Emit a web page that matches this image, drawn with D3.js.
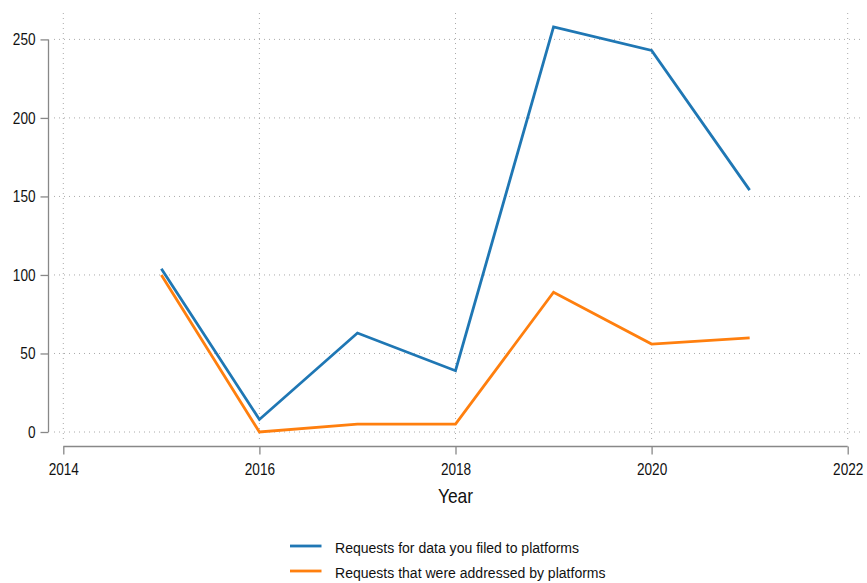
<!DOCTYPE html>
<html><head><meta charset="utf-8">
<script src="https://cdn.jsdelivr.net/npm/d3@7"></script>
<style>
html,body{margin:0;padding:0;background:#fff;}
text{font-family:"Liberation Sans Narrow","Arial Narrow","Liberation Sans",Arial,sans-serif;fill:#111;}
</style></head>
<body><svg id="c" width="867" height="583"></svg>
<script>
const years = [2015, 2016, 2017, 2018, 2019, 2020, 2021];
const filed = [104, 8, 63, 39, 258, 243, 154];
const addressed = [100, 0, 5, 5, 89, 56, 60];
const seriesNames = ["Requests for data you filed to platforms", "Requests that were addressed by platforms"];
const colors = ["#1f77b4", "#ff7f0e"];
const xTicks = [2014, 2016, 2018, 2020, 2022];
const yTicks = [0, 50, 100, 150, 200, 250];

const svg = d3.select("#c");
const x = d3.scaleLinear().domain([2014, 2022]).range([63.3, 847.7]);
const y = d3.scaleLinear().domain([0, 250]).range([432, 39.4]);

function squeeze(sel, f) {
  sel.each(function() {
    const w = this.getComputedTextLength();
    d3.select(this).attr("textLength", (w * f).toFixed(2)).attr("lengthAdjust", "spacingAndGlyphs");
  });
}

// gridlines
const grid = svg.append("g");
grid.selectAll("line.h").data(yTicks).join("line")
  .attr("x1", 54).attr("x2", 862).attr("y1", d => y(d)).attr("y2", d => y(d))
  .attr("stroke", "#aaa").attr("stroke-width", 1).attr("stroke-dasharray", "1,4");
grid.selectAll("line.v").data(xTicks).join("line")
  .attr("x1", d => x(d)).attr("x2", d => x(d)).attr("y1", 13).attr("y2", 441)
  .attr("stroke", "#aaa").attr("stroke-width", 1).attr("stroke-dasharray", "1,4");

// y axis
const yAxis = svg.append("g").attr("transform", "translate(48.5,0)")
  .call(d3.axisLeft(y).tickValues(yTicks).tickSize(8).tickPadding(5));
// x axis
const xAxis = svg.append("g").attr("transform", "translate(0,446.5)")
  .call(d3.axisBottom(x).tickValues(xTicks).tickFormat(d3.format("d")).tickSize(8).tickPadding(9));
[yAxis, xAxis].forEach(a => {
  a.select(".domain").attr("stroke", "#888").attr("stroke-width", 1.3);
  a.selectAll(".tick line").attr("stroke", "#888").attr("stroke-width", 1.3);
  a.selectAll(".tick text").style("font-size", "16px").attr("fill", "#111")
   .style("font-family", '"Liberation Sans Narrow","Arial Narrow","Liberation Sans",Arial,sans-serif');
  squeeze(a.selectAll(".tick text"), 0.85);
});
yAxis.select(".domain").attr("d", `M0,${y(250)}V${y(0)}`);
xAxis.select(".domain").attr("d", `M${x(2014)},0H${x(2022)}`);

// lines
const line = d3.line().x(d => x(d[0])).y(d => y(d[1]));
[filed, addressed].forEach((vals, i) => {
  svg.append("path").datum(years.map((yr, j) => [yr, vals[j]]))
    .attr("d", line).attr("fill", "none").attr("stroke", colors[i])
    .attr("stroke-width", 2.8).attr("stroke-linejoin", "miter");
});

// x title
const title = svg.append("text").attr("x", x(2018)).attr("y", 503).attr("text-anchor", "middle")
  .style("font-size", "21px").text("Year");
squeeze(title, 0.83);

// legend
const leg = svg.append("g");
seriesNames.forEach((n, i) => {
  const ly = 546 + i * 25;
  leg.append("line").attr("x1", 290).attr("x2", 321.5).attr("y1", ly).attr("y2", ly)
    .attr("stroke", colors[i]).attr("stroke-width", 2.8);
  const t = leg.append("text").attr("x", 335).attr("y", ly + 7.3).style("font-size", "15.5px").text(n);
  squeeze(t, 0.905);
});
</script></body></html>
